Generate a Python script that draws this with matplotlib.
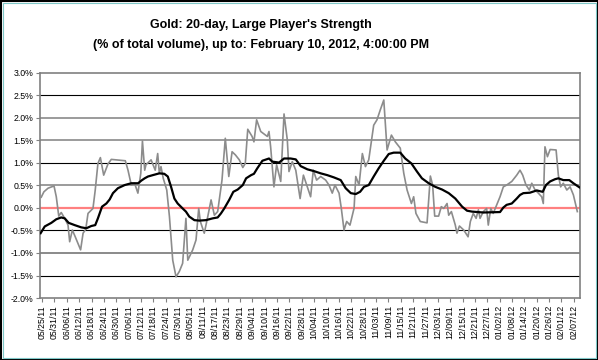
import matplotlib
matplotlib.use("Agg")
import matplotlib.pyplot as plt
import matplotlib.ticker as mticker
import numpy as np
import pandas as pd
from matplotlib.patches import Rectangle

plt.rcParams['font.family'] = ['Liberation Sans', 'DejaVu Sans']

title_line1 = "Gold: 20-day, Large Player's Strength"
title_line2 = "(% of total volume), up to: February 10, 2012, 4:00:00 PM"

start_date = pd.Timestamp("2011-05-24")
end_date = pd.Timestamp("2012-02-10")
first_tick = pd.Timestamp("2011-05-25")
tick_step_days = 6

# daily strength (gray) : days since 2011-05-24, value in %
gray_days = [0.6, 1.9, 3.9, 6.8, 7.9, 9.1, 10.3, 12.0, 13.6, 14.4, 15.7, 17.1, 19.7, 20.9,
             22.2, 23.3, 25.7, 26.8, 28.1, 29.3, 30.9, 33.0, 34.6, 41.4, 42.7, 44.3, 45.9,
             47.5, 48.9, 49.7, 50.8, 51.4, 53.9, 55.9, 57.1, 57.9, 58.7, 59.8, 61.5, 62.8,
             64.4, 66.0, 67.6, 69.2, 70.8, 71.7, 74.1, 75.7, 77.0, 77.8, 79.7, 81.4, 83.0,
             84.6, 86.2, 88.3, 89.9, 91.6, 93.2, 94.8, 96.7, 98.4, 99.6, 100.8, 102.9,
             103.8, 105.1, 107.1, 110.3, 111.1, 111.9, 113.5, 114.8, 116.8, 118.4, 120.0,
             120.8, 122.4, 124.1, 126.2, 127.8, 129.4, 131.3, 132.6, 134.2, 136.2, 138.6,
             140.2, 141.8, 143.1, 145.1, 146.2, 147.5, 148.8, 150.4, 152.4, 153.2, 154.8,
             156.4, 157.9, 159.5, 161.9, 163.5, 165.1, 166.8, 168.4, 170.5, 172.4, 174.8,
             176.5, 178.1, 180.2, 181.3, 182.4, 184.5, 187.8, 189.4, 190.5, 191.5, 193.4,
             194.7, 195.9, 197.5, 198.3, 199.6, 201.5, 202.3, 203.5, 205.6, 207.7, 208.8,
             210.2, 211.6, 212.7, 213.5, 215.1, 216.7, 217.5, 218.7, 219.9, 221.6, 223.2,
             224.8, 226.4, 228.9, 231.3, 232.9, 234.2, 235.8, 237.4, 238.6, 240.2, 241.8,
             243.4, 244.2, 245.0, 246.2, 247.5, 250.4, 251.5, 252.6, 253.9, 255.6, 257.2,
             258.8, 260.1, 260.7]
gray_vals = [0.24, 0.36, 0.44, 0.49, 0.25, -0.18, -0.10, -0.23, -0.38, -0.75, -0.49, -0.64, -0.93, -0.56,
             -0.47, -0.12, -0.01, 0.40, 0.99, 1.12, 0.73, 0.98, 1.08, 1.05, 0.84, 0.51, 0.55,
             0.33, 0.77, 1.49, 0.84, 0.96, 1.07, 0.84, 1.21, 0.77, 0.92, 0.66, 0.40, -0.19,
             -1.16, -1.53, -1.41, -1.23, -0.23, -1.16, -0.93, -0.71, -0.01, -0.30, -0.56, -0.19, 0.18,
             -0.16, -0.08, 0.62, 1.55, 0.70, 1.25, 1.18, 1.07, 0.90, 0.99, 1.75, 1.59,
             1.47, 1.96, 1.70, 1.59, 1.70, 1.36, 0.47, 0.96, 0.59, 2.09, 1.51,
             0.81, 1.03, 0.84, 0.21, 0.73, 0.51, 0.25, 0.84, 0.62, 0.70, 0.62,
             0.51, 0.33, 0.51, 0.33, -0.01, -0.49, -0.30, -0.38, 0.00, 0.70, 0.51,
             1.21, 0.92, 1.07, 1.84, 1.96, 2.18, 2.40, 1.29, 1.62, 1.47, 1.33,
             0.77, 0.40, 0.10, 0.25, -0.12, -0.30, -0.33, 0.71, 0.51, -0.18, -0.18,
             0.03, -0.01, 0.10, -0.16, -0.08, -0.38, -0.56, -0.40, -0.49, -0.64, -0.30,
             -0.12, -0.23, -0.04, -0.23, -0.08, -0.01, -0.38, -0.01, -0.12, 0.07, 0.25,
             0.47, 0.51, 0.59, 0.73, 0.84, 0.73, 0.51, 0.40, 0.55, 0.40, 0.33,
             0.25, 0.10, 1.36, 1.14, 1.30, 1.29, 0.73, 0.47, 0.55, 0.40, 0.47,
             0.29, 0.03, -0.08]

# 20-day average (black)
avg_days = [0.3, 2.3, 5.5, 7.9, 10.3, 12.0, 13.9, 16.8, 20.0, 22.5, 24.9, 26.8, 28.1, 30.1,
            32.2, 33.8, 35.4, 37.8, 41.1, 44.3, 47.6, 49.2, 50.8, 52.4, 54.7, 57.9, 60.3,
            62.0, 63.6, 65.2, 66.8, 69.2, 70.8, 72.4, 74.9, 77.3, 80.5, 83.8, 86.2, 87.8,
            89.4, 91.8, 93.8, 95.9, 98.4, 100.0, 102.4, 103.8, 105.4, 107.9, 111.1, 112.7,
            116.0, 118.4, 121.6, 124.1, 126.5, 129.7, 132.9, 136.2, 139.4, 142.6, 145.9,
            148.3, 150.8, 153.2, 155.3, 157.2, 159.5, 161.9, 164.3, 166.8, 169.2, 171.6,
            174.8, 177.2, 180.2, 182.9, 185.3, 188.6, 191.8, 195.1, 198.3, 201.5, 204.8,
            207.2, 209.6, 215.1, 223.2, 224.8, 226.4, 228.9, 231.3, 232.9, 234.5, 237.7,
            241.0, 243.9, 245.5, 247.5, 249.9, 251.5, 253.9, 256.8, 258.8, 261.7]
avg_vals = [-0.56, -0.41, -0.33, -0.25, -0.21, -0.23, -0.33, -0.38, -0.43, -0.45, -0.40, -0.38, -0.23, 0.03,
            0.10, 0.19, 0.33, 0.44, 0.51, 0.55, 0.55, 0.61, 0.66, 0.70, 0.73, 0.77, 0.76,
            0.70, 0.47, 0.21, 0.10, -0.01, -0.08, -0.19, -0.27, -0.28, -0.27, -0.23, -0.21, -0.12,
            -0.01, 0.18, 0.36, 0.41, 0.51, 0.66, 0.73, 0.76, 0.88, 1.05, 1.10, 1.03,
            1.01, 1.10, 1.10, 1.08, 0.93, 0.86, 0.82, 0.77, 0.73, 0.68, 0.62,
            0.44, 0.33, 0.31, 0.36, 0.47, 0.51, 0.70, 0.88, 1.05, 1.20, 1.23,
            1.23, 1.10, 0.99, 0.81, 0.66, 0.55, 0.47, 0.41, 0.33, 0.21, 0.03,
            -0.06, -0.08, -0.10, -0.09, 0.01, 0.07, 0.10, 0.21, 0.29, 0.33, 0.34,
            0.39, 0.36, 0.51, 0.59, 0.64, 0.66, 0.62, 0.62, 0.55, 0.46]

y_ticks = [-2.0, -1.5, -1.0, -0.5, 0.0, 0.5, 1.0, 1.5, 2.0, 2.5, 3.0]

W, H = 598, 360
fig = plt.figure(figsize=(W / 100, H / 100), dpi=100)
fig.patch.set_facecolor('white')

# chart frame
fig.patches.append(Rectangle((0.5 / W, 0.5 / H), 1 - 1.0 / W, 1 - 1.0 / H, transform=fig.transFigure,
                             fill=False, edgecolor='black', linewidth=1.5, zorder=10))
fig.patches.append(Rectangle((2.5 / W, 2.5 / H), 1 - 5.0 / W, 1 - 5.0 / H, transform=fig.transFigure,
                             fill=False, edgecolor='#7fc8c8', linewidth=0.8, zorder=10))

ax = fig.add_axes([40 / W, 1 - 298 / H, 540 / W, 225 / H])

gx = [start_date + pd.Timedelta(days=d) for d in gray_days]
bx = [start_date + pd.Timedelta(days=d) for d in avg_days]

# gridlines
grid_styles = {2.5: ('#000000', 0.8), 2.0: ('#8a8a8a', 1.2), 1.5: ('#8a8a8a', 1.2),
               1.0: ('#000000', 0.8), 0.5: ('#8a8a8a', 1.2), -0.5: ('#000000', 0.8),
               -1.0: ('#8a8a8a', 1.4), -1.5: ('#000000', 0.8)}
for yv, (c, lw) in grid_styles.items():
    ax.axhline(yv, color=c, linewidth=lw, zorder=1)
ax.axhline(0.0, color='#ff8080', linewidth=1.6, zorder=2)

ax.plot(gx, gray_vals, color='#8c8c8c', linewidth=1.2, zorder=3)
ax.plot(bx, avg_vals, color='black', linewidth=1.6, zorder=4)

ax.set_xlim(start_date, end_date)
ax.set_ylim(-2.0, 3.0)
ax.set_yticks(y_ticks)
ax.yaxis.set_major_formatter(mticker.FuncFormatter(lambda v, p: f"{v:.1f}%"))

xticks = pd.date_range(first_tick, end_date, freq=f"{tick_step_days}D")
ax.set_xticks(xticks)
ax.set_xticklabels([d.strftime("%m/%d/%y") for d in xticks], rotation=90)

ax.tick_params(axis='both', labelsize=6.3, length=3, width=0.8, color='#808080', pad=2)
for s in ax.spines.values():
    s.set_color('#808080')
    s.set_linewidth(1.2)

fig.text(261 / W, 1 - 25 / H, title_line1, ha='center', va='center', fontsize=9, fontweight='bold')
fig.text(261 / W, 1 - 45 / H, title_line2, ha='center', va='center', fontsize=9, fontweight='bold')

fig.savefig("out.png", dpi=100)
